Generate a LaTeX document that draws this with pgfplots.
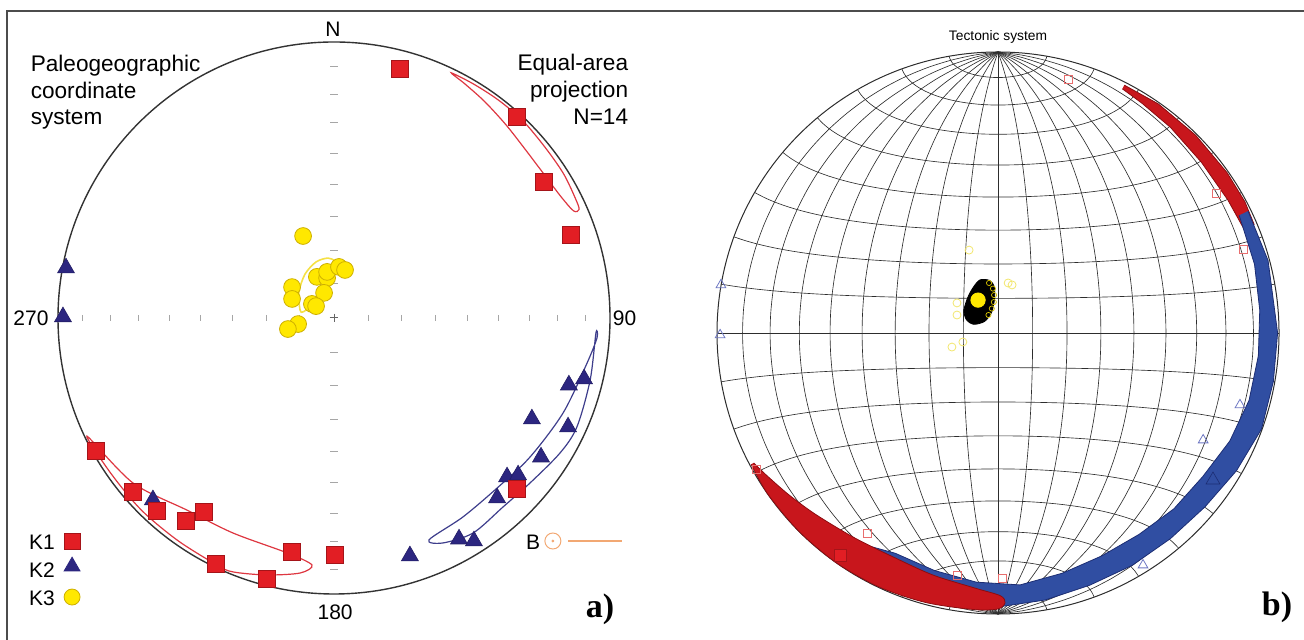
\documentclass[border=0pt]{standalone}
\usepackage{pgfplots}
\usepackage{pgfplotstable}
\pgfplotsset{compat=1.18}
\usepackage{fontspec}
\setmainfont{Liberation Sans}
\newfontfamily\timesfont{Liberation Serif}

\definecolor{kred}{RGB}{226,30,36}
\definecolor{kredd}{RGB}{165,20,25}
\definecolor{kblue}{RGB}{44,38,128}
\definecolor{kyel}{RGB}{255,232,0}
\definecolor{kyeld}{RGB}{205,175,0}
\definecolor{ellred}{RGB}{222,55,65}
\definecolor{ellblue}{RGB}{62,62,140}
\definecolor{ellyel}{RGB}{245,225,70}
\definecolor{borange}{RGB}{242,168,115}
\definecolor{bandred}{RGB}{200,22,28}
\definecolor{bandredd}{RGB}{140,12,16}
\definecolor{bandblue}{RGB}{48,78,162}
\definecolor{bandblued}{RGB}{28,45,115}
\definecolor{netgray}{RGB}{45,45,45}
\definecolor{hred}{RGB}{232,110,110}
\definecolor{hblue}{RGB}{110,120,195}
\definecolor{hyel}{RGB}{242,230,110}

% bootstrap bands of panel b: azimuth (deg, clockwise from N) and projected radius
\pgfplotstableread{
az r
27 0.990
35 0.995
45 0.995
55 0.995
62 0.995
67 0.990
67 0.950
60 0.945
50 0.945
40 0.955
32 0.965
27 0.975
}\bandredA
\pgfplotstableread{
az r
64 0.990
75 0.995
90 0.995
100 0.995
110 0.998
120 0.980
130 0.962
140 0.955
150 0.955
160 0.955
170 0.965
180 0.975
190 0.975
200 0.970
212 0.950
212 0.890
205 0.865
195 0.875
185 0.890
175 0.900
165 0.885
155 0.875
145 0.875
135 0.885
125 0.890
115 0.910
105 0.925
95 0.930
85 0.935
75 0.945
64 0.955
}\bandblue
\pgfplotstableread{
az r
242 0.995
235 1.000
225 1.000
215 1.000
205 0.998
195 0.993
185 0.988
180 0.982
178.5 0.960
179.5 0.935
185 0.912
195 0.892
205 0.880
215 0.890
225 0.915
232 0.940
238 0.965
242 0.985
}\bandredB

\pgfplotsset{
  net/.style={draw=netgray, line width=0.32pt, smooth, no markers},
  stereo/.style={axis lines=none, ticks=none, clip=false, anchor=center},
}

\begin{document}
\begin{tikzpicture}
% ---------------- panel a ----------------
\begin{axis}[stereo, at={(167pt,161pt)}, x=138pt, y=138pt,
  xmin=-1.2, xmax=1.2, ymin=-1.2, ymax=1.2]
\draw[black!80, line width=0.7pt] (axis cs:0,0) circle[radius=1];
% graticule ticks (10 degree steps, equal-area)
\addplot[only marks, mark=|, mark size=1.6pt, gray!70, mark options={line width=0.5pt}] coordinates {
(-0.9096,0) (-0.8112,0) (-0.7071,0) (-0.5977,0) (-0.4837,0) (-0.3660,0) (-0.2456,0) (-0.1233,0)
(0.1233,0) (0.2456,0) (0.3660,0) (0.4837,0) (0.5977,0) (0.7071,0) (0.8112,0) (0.9096,0)};
\addplot[only marks, mark=-, mark size=1.8pt, gray!70, mark options={line width=0.5pt}] coordinates {
(0,-0.9096) (0,-0.8112) (0,-0.7071) (0,-0.5977) (0,-0.4837) (0,-0.3660) (0,-0.2456) (0,-0.1233)
(0,0.1233) (0,0.2456) (0,0.3660) (0,0.4837) (0,0.5977) (0,0.7071) (0,0.8112) (0,0.9096)};
\addplot[only marks, mark=+, mark size=2.2pt, gray!80!black, mark options={line width=0.5pt}] coordinates {(0,0)};
% confidence ellipses
\addplot[ellred, line width=0.6pt, smooth cycle] coordinates {
(0.425,0.888) (0.505,0.848) (0.595,0.790) (0.683,0.716) (0.765,0.618) (0.832,0.522)
(0.876,0.430) (0.888,0.393) (0.868,0.388) (0.822,0.440) (0.760,0.522) (0.695,0.608)
(0.623,0.700) (0.545,0.785) (0.472,0.850)};
\addplot[ellred, line width=0.6pt, smooth cycle] coordinates {
(-0.895,-0.428) (-0.728,-0.598) (-0.533,-0.696) (-0.366,-0.779) (-0.170,-0.851)
(-0.080,-0.895) (-0.123,-0.924) (-0.243,-0.931) (-0.366,-0.920) (-0.424,-0.895)
(-0.565,-0.807) (-0.697,-0.697) (-0.807,-0.565)};
\addplot[ellblue, line width=0.6pt, smooth cycle] coordinates {
(0.344,-0.804) (0.467,-0.721) (0.591,-0.616) (0.710,-0.504) (0.830,-0.344)
(0.917,-0.163) (0.953,-0.072) (0.949,-0.054) (0.928,-0.225) (0.880,-0.395)
(0.819,-0.489) (0.710,-0.598) (0.612,-0.685) (0.504,-0.779) (0.395,-0.815)};
\addplot[ellyel, line width=0.8pt, smooth cycle] coordinates {
(-0.123,0.029) (-0.127,0.094) (-0.105,0.159) (-0.065,0.203) (-0.022,0.217)
(0.004,0.203) (-0.004,0.156) (-0.033,0.101) (-0.080,0.047) (-0.112,0.022)};
% K2
\addplot[only marks, mark=triangle*, mark size=4.9pt, mark options={fill=kblue, draw=kblue!80!black, line width=0.3pt}] coordinates {
(-0.971,0.181) (-0.982,0.004) (-0.656,-0.659) (0.275,-0.862) (0.453,-0.801) (0.507,-0.808)
(0.591,-0.652) (0.627,-0.576) (0.667,-0.569) (0.750,-0.504) (0.717,-0.366) (0.848,-0.395)
(0.851,-0.243) (0.906,-0.221)};
% K1
\addplot[only marks, mark=square*, mark size=4.2pt, mark options={fill=kred, draw=kredd, line width=0.3pt}] coordinates {
(0.239,0.902) (0.663,0.728) (0.761,0.493) (0.859,0.301) (-0.862,-0.482) (-0.728,-0.630)
(-0.641,-0.699) (-0.536,-0.736) (-0.471,-0.703) (-0.428,-0.891) (-0.243,-0.946) (-0.152,-0.848)
(0.004,-0.859) (0.663,-0.620)};
% K3
\addplot[only marks, mark=*, mark size=4.2pt, mark options={fill=kyel, draw=kyeld, line width=0.4pt}] coordinates {
(-0.112,0.297) (-0.152,0.112) (-0.152,0.069) (-0.062,0.149) (-0.025,0.145) (-0.025,0.167)
(0.018,0.185) (0.040,0.174) (-0.036,0.091) (-0.080,0.051) (-0.065,0.043) (-0.130,-0.022)
(-0.167,-0.040)};
% legend marks
\addplot[only marks, mark=square*, mark size=4pt, mark options={fill=kred, draw=kredd, line width=0.3pt}] coordinates {(-0.949,-0.808)};
\addplot[only marks, mark=triangle*, mark size=4.6pt, mark options={fill=kblue, draw=kblue}] coordinates {(-0.949,-0.900)};
\addplot[only marks, mark=*, mark size=4pt, mark options={fill=kyel, draw=kyeld, line width=0.4pt}] coordinates {(-0.949,-1.011)};
\addplot[only marks, mark=o, mark size=4pt, mark options={draw=borange, line width=0.5pt}] coordinates {(0.793,-0.808)};
\addplot[only marks, mark=*, mark size=0.5pt, mark options={fill=borange, draw=borange}] coordinates {(0.793,-0.808)};
\addplot[borange, line width=1pt] coordinates {(0.848,-0.808) (1.043,-0.808)};
% texts
\node[font=\fontsize{10.5}{12}\selectfont] at (axis cs:-0.004,1.047) {N};
\node[font=\fontsize{10.5}{12}\selectfont] at (axis cs:-1.098,0) {270};
\node[font=\fontsize{10.5}{12}\selectfont] at (axis cs:1.053,0) {90};
\node[font=\fontsize{10.5}{12}\selectfont] at (axis cs:0.004,-1.066) {180};
\node[font=\fontsize{11.3}{13.2}\selectfont, align=left, anchor=north west, inner sep=0pt] at (axis cs:-1.100,0.953) {Paleogeographic\\coordinate\\system};
\node[font=\fontsize{11.3}{13.5}\selectfont, align=right, anchor=north east, inner sep=0pt] at (axis cs:1.067,0.958) {Equal-area\\projection\\N=14};
\node[font=\fontsize{10.5}{12}\selectfont, anchor=west, inner sep=0pt] at (axis cs:-1.106,-0.812) {K1};
\node[font=\fontsize{10.5}{12}\selectfont, anchor=west, inner sep=0pt] at (axis cs:-1.106,-0.913) {K2};
\node[font=\fontsize{10.5}{12}\selectfont, anchor=west, inner sep=0pt] at (axis cs:-1.106,-1.014) {K3};
\node[font=\fontsize{10.5}{12}\selectfont] at (axis cs:0.721,-0.812) {B};
\node[font=\timesfont\bfseries\fontsize{17}{18}\selectfont] at (axis cs:0.964,-1.055) {a)};
\end{axis}

% ---------------- panel b ----------------
\begin{axis}[stereo, at={(499pt,153.5pt)}, x=140.5pt, y=140.5pt,
  xmin=-1.1, xmax=1.1, ymin=-1.1, ymax=1.1]
% Schmidt (equal-area) net, 10 degree graticule
\pgfplotsinvokeforeach{10,20,30,40,50,60,70,80}{
 \addplot[net, domain=0:180, samples=37, variable=\t]
   ({sin(\t)*cos(#1)/sqrt(1+sin(\t)*sin(#1))},{cos(\t)/sqrt(1+sin(\t)*sin(#1))});
 \addplot[net, domain=0:180, samples=37, variable=\t]
   ({-sin(\t)*cos(#1)/sqrt(1+sin(\t)*sin(#1))},{cos(\t)/sqrt(1+sin(\t)*sin(#1))});
}
\addplot[net] coordinates {(0,-1) (0,1)};
\pgfplotsinvokeforeach{10,20,30,40,50,60,70,80,90,100,110,120,130,140,150,160,170}{
 \addplot[net, domain=0:180, samples=37, variable=\t]
   ({sin(#1)*cos(\t)/sqrt(1+sin(#1)*sin(\t))},{cos(#1)/sqrt(1+sin(#1)*sin(\t))});
}
\draw[netgray, line width=0.5pt] (axis cs:0,0) circle[radius=1];
% bootstrap bands
\addplot[fill=bandred, draw=bandredd, line width=0.4pt] table[x expr={\thisrow{r}*sin(\thisrow{az})}, y expr={\thisrow{r}*cos(\thisrow{az})}] {\bandredA};
\addplot[fill=bandblue, draw=bandblued, line width=0.4pt] table[x expr={\thisrow{r}*sin(\thisrow{az})}, y expr={\thisrow{r}*cos(\thisrow{az})}] {\bandblue};
\addplot[fill=bandred, draw=bandredd, line width=0.4pt, smooth] table[x expr={\thisrow{r}*sin(\thisrow{az})}, y expr={\thisrow{r}*cos(\thisrow{az})}] {\bandredB};
% individual specimen axes (open symbols)
\addplot[only marks, mark=square, mark size=2pt, mark options={draw=hred, line width=0.4pt}] coordinates {
(0.249,0.904) (0.776,0.495) (0.872,0.299) (-0.860,-0.485) (-0.466,-0.712) (-0.146,-0.861) (0.014,-0.872)};
\addplot[only marks, mark=triangle, mark size=2.8pt, mark options={draw=hblue, line width=0.4pt}] coordinates {
(-0.986,0.171) (-0.989,-0.007) (0.861,-0.256) (0.730,-0.381) (0.516,-0.826)};
\addplot[only marks, mark=o, mark size=2pt, mark options={draw=hyel, line width=0.4pt}] coordinates {
(-0.103,0.295) (0.036,0.178) (0.050,0.171) (-0.146,0.107) (-0.146,0.064) (-0.164,-0.050) (-0.125,-0.032)};
% K3 bootstrap cloud
\addplot[fill=black, draw=black, smooth cycle] coordinates {
(-0.064,0.189) (-0.030,0.187) (-0.013,0.164) (-0.013,0.117) (-0.023,0.073) (-0.048,0.041)
(-0.087,0.031) (-0.113,0.048) (-0.121,0.082) (-0.107,0.128) (-0.087,0.164)};
\addplot[only marks, mark=o, mark size=1.3pt, mark options={draw=kyel!85!black, line width=0.35pt}] coordinates {
(-0.032,0.178) (-0.018,0.158) (-0.014,0.135) (-0.015,0.110) (-0.022,0.087) (-0.034,0.064)};
% mean axes
\addplot[only marks, mark=square*, mark size=3pt, mark options={fill=kred, draw=kredd, line width=0.3pt}] coordinates {(-0.562,-0.790)};
\addplot[only marks, mark=triangle*, mark size=4pt, mark options={fill=bandblue, draw=bandblued, line width=0.3pt}] coordinates {(0.765,-0.523)};
\addplot[only marks, mark=*, mark size=3.6pt, mark options={fill=kyel, draw=kyel}] coordinates {(-0.071,0.117)};
\node[font=\fontsize{6.9}{8}\selectfont] at (axis cs:0,1.053) {Tectonic system};
\node[font=\timesfont\bfseries\fontsize{17}{18}\selectfont] at (axis cs:0.993,-0.975) {b)};
\end{axis}

\draw[black!70, line width=0.6pt] (3.5pt,0pt) -- (3.5pt,314.5pt) -- (652pt,314.5pt);
\pgfresetboundingbox
\path[use as bounding box] (0pt,0pt) rectangle (652pt,320pt);
\end{tikzpicture}
\end{document}
